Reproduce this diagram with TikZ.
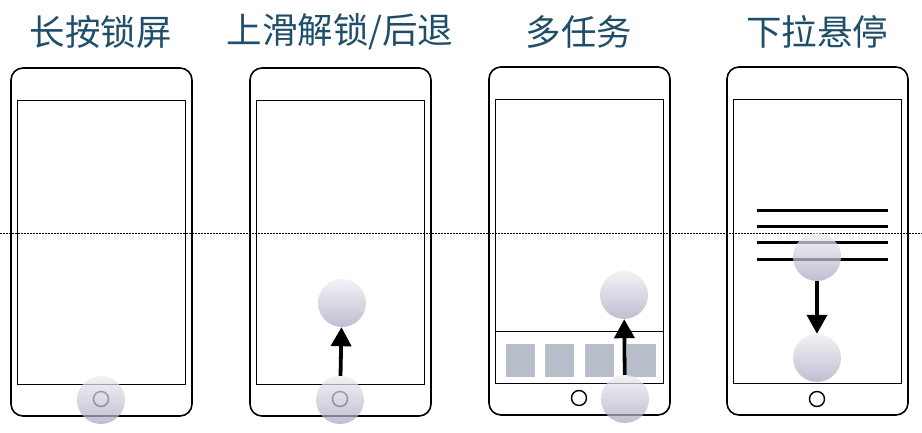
\documentclass[tikz,border=0pt]{standalone}
\usepackage{fontspec}
\setmainfont{Noto Sans CJK SC}
\usepackage{xcolor}
\usetikzlibrary{arrows.meta,positioning}
\definecolor{titleblue}{RGB}{31,78,107}
\definecolor{tilegray}{RGB}{184,190,201}
\definecolor{touchtop}{RGB}{236,236,241}
\definecolor{touchbot}{RGB}{168,166,194}

\begin{document}
\begin{tikzpicture}[
    x=1pt, y=-1pt,
    phone/.style={draw, line width=1.6pt, rounded corners=12pt, inner sep=0pt,
                  minimum width=181pt, minimum height=348pt},
    screen/.style={draw, line width=0.9pt, inner sep=0pt,
                   minimum width=168pt, minimum height=284pt},
    homebtn/.style={circle, draw, line width=1.4pt, inner sep=0pt, minimum size=15pt},
    touch/.style={circle, inner sep=0pt, minimum size=48pt,
                  top color=touchtop, bottom color=touchbot, fill opacity=0.72},
    tile/.style={fill=tilegray, inner sep=0pt, minimum width=29pt, minimum height=33pt},
    title/.style={font=\fontsize{35.5}{40}\selectfont, text=titleblue},
    swipe/.style={line width=3.8pt, -{Triangle[width=20pt,length=19pt]}},
    menuline/.style={line width=3pt},
    ]
\useasboundingbox (0,0) rectangle (922,433);

% phones
\node[phone] (ph1) at (101.5,242) {};
\node[phone] (ph2) at (340.5,242) {};
\node[phone] (ph3) at (579.5,241) {};
\node[phone] (ph4) at (817.5,241) {};

\node[screen] (sc1) at (101,242) {};
\node[screen] (sc2) at (340,242) {};
\node[screen] (sc3) at (579,241.5) {};
\node[screen] (sc4) at (817,241.5) {};

\node[homebtn] (hb1) at (101,399) {};
\node[homebtn] (hb2) at (340,399) {};
\node[homebtn] (hb3) at (579,398) {};
\node[homebtn] (hb4) at (817,399) {};

% titles
\node[title] (tt1) at (101,32) {长按锁屏};
\node[title] (tt2) at (340,32) {上滑解锁/后退};
\node[title] (tt3) at (579,32) {多任务};
\node[title] (tt4) at (817,32) {下拉悬停};

% multitask dock
\draw[line width=0.9pt] (sc3.west |- 0,331) -- (sc3.east |- 0,331);
\node[tile] (tl1) at (520,360) {};
\node[tile] (tl2) at (559,360) {};
\node[tile] (tl3) at (599,360) {};
\node[tile] (tl4) at (641,360) {};

% pull-down menu
\draw[menuline] (757,211) -- (888,211);
\draw[menuline] (757,227) -- (888,227);
\draw[menuline] (757,243) -- (888,243);
\draw[menuline] (757,259) -- (888,259);

% guide
\coordinate (gl) at (0,233);
\coordinate (gr) at (922,233);
\draw[line width=0.6pt, dash pattern=on 1.5pt off 1.5pt] (gl) -- (gr);

% touches
\node[touch] (tp1) at (101,400) {};
\node[touch] (tp2a) at (340,400) {};
\node[touch] (tp2b) at (342,303) {};
\node[touch] (tp3a) at (625,399) {};
\node[touch] (tp3b) at (624,295) {};
\node[touch] (tp4a) at (817,257) {};
\node[touch] (tp4b) at (817,358) {};

\draw[swipe] (tp2a) -- (tp2b);
\draw[swipe] (tp3a) -- (tp3b);
\draw[swipe] (tp4a) -- (tp4b);
\end{tikzpicture}
\end{document}
